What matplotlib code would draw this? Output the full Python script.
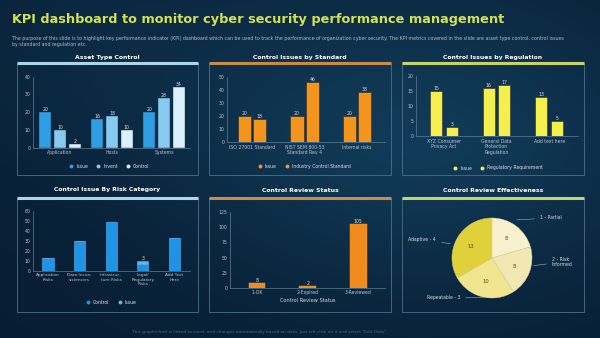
import numpy as np
import matplotlib
matplotlib.use("Agg")
import matplotlib.pyplot as plt
from matplotlib.patches import Rectangle
from matplotlib.lines import Line2D

W, H = 600, 338

# ---------------- data ----------------
title = "KPI dashboard to monitor cyber security performance management"
subtitle = ("The purpose of this slide is to highlight key performance indicator (KPI) dashboard which can be used to track the performance of organization cyber security. The KPI metrics covered in the slide are asset type control, control issues\n"
            "by standard and regulation etc.")
footer = "This graph/chart is linked to excel, and changes automatically based on data. Just left click on it and select \"Edit Data\"."

asset_cats = ["Application", "Hosts", "Systems"]
asset_series = ["Issue", "Invent", "Control"]
asset_issue = [20, 16, 20]
asset_invent = [10, 18, 28]
asset_control = [2, 10, 34]

std_cats = ["ISO 27001 Standard", "NIST SEM 800-53\nStandard Rev 4", "Internal risks"]
std_series = ["Issue", "Industry Control Standard"]
std_issue = [20, 20, 20]
std_industry = [18, 46, 38]

reg_cats = ["XYZ Consumer\nPrivacy Act", "General Data\nProtection\nRegulation", "Add text here"]
reg_series = ["Issue", "Regulatory Requirement"]
reg_issue = [15, 16, 13]
reg_requirement = [3, 17, 5]

risk_cats = ["Application\nRisks", "Data Incon-\nsistencies", "Infrastruc-\nture Risks", "Legal/\nRegulatory\nRisks", "Add Text\nHere"]
risk_series = ["Control", "Issue"]
risk_control = [13, 30, 49, 7, 33]
risk_issue = [0, 0, 0, 3, 0]

status_cats = ["1-OK", "2-Expired", "3-Reviewed"]
status_vals = [8, 2, 105]
status_xlabel = "Control Review Status"

eff_labels = ["1 - Partial", "2 - Risk\nInformed", "Repeatable - 3", "Adaptive - 4"]
eff_vals = [8, 8, 10, 13]

panel_titles = ["Asset Type Control", "Control Issues by Standard", "Control Issues by Regulation",
                "Control Issue By Risk Category", "Control Review Status", "Control Review Effectiveness"]

# ---------------- figure ----------------
fig = plt.figure(figsize=(6, 3.38), dpi=100)

# background gradient
bg = fig.add_axes([0, 0, 1, 1])
yy, xx = np.mgrid[0:H, 0:W]
dark = np.array([0.030, 0.115, 0.200])
light = np.array([0.070, 0.250, 0.370])
w = 0.85 * np.exp(-((xx - 420) / 260.0) ** 2 - ((yy - 150) / 170.0) ** 2)
w += 0.25 * np.exp(-((xx - 80) / 200.0) ** 2 - ((yy - 40) / 120.0) ** 2)
w *= np.clip(1.25 - yy / 338.0 * 0.6, 0, 1)
w = np.clip(w, 0, 1)[..., None]
img = dark * (1 - w) + light * w
bg.imshow(img, extent=[0, W, H, 0], aspect="auto")
bg.set_xlim(0, W)
bg.set_ylim(H, 0)
bg.axis("off")

def fx(x):
    return x / W

def fy(y):
    return 1 - y / H

TXT = "#d6dee6"
TICK = "#b9c5d0"

fig.text(fx(12), fy(20), title, color="#d3e253", fontsize=9.3, fontweight="bold",
         ha="left", va="center", family="DejaVu Sans")
fig.text(fx(12), fy(41.5), subtitle, color="#aebccb", fontsize=3.4, ha="left", va="center",
         linespacing=1.2)
fig.text(fx(260), fy(332), footer, color="#4d6c86", fontsize=3.05, ha="center", va="center")

# panel frames
panels = [(17, 198, 63, 175, "#a9d6ec"), (209, 391, 63, 175, "#c98b45"), (402, 584, 63, 175, "#c8d26a"),
          (17, 198, 198, 312, "#a9d6ec"), (209, 391, 198, 312, "#c98b45"), (402, 584, 198, 312, "#c8d26a")]
title_y = [57, 57, 57, 190, 190, 190]
for (x0, x1, y0, y1, col), t, ty in zip(panels, panel_titles, title_y):
    bg.add_patch(Rectangle((x0, y0), x1 - x0, y1 - y0, fill=False, ec="#4f6f8a", lw=0.6))
    bg.plot([x0, x1], [y0, y0], color=col, lw=2.2, solid_capstyle="butt")
    bg.text((x0 + x1) / 2, ty, t, color="white", fontsize=4.4, fontweight="bold",
            ha="center", va="center")

def make_ax(left, right, bottom, top):
    ax = fig.add_axes([fx(left), fy(bottom), (right - left) / W, (bottom - top) / H])
    ax.patch.set_alpha(0)
    for s in ["top", "right"]:
        ax.spines[s].set_visible(False)
    for s in ["left", "bottom"]:
        ax.spines[s].set_color("#5d7d98")
        ax.spines[s].set_linewidth(0.5)
    ax.tick_params(axis="both", length=0, labelsize=3.3, colors=TICK, pad=2)
    return ax

def vlabels(ax, xs, vals, bottoms=None):
    for i, (x, v) in enumerate(zip(xs, vals)):
        b = 0 if bottoms is None else bottoms[i]
        ax.text(x, b + v, f"{v}", color=TXT, fontsize=3.3, ha="center", va="bottom")

def legend(ax, labels, colors, cx, cy):
    handles = [Line2D([0], [0], marker="o", ls="", color=c, markersize=1.8) for c in colors]
    fig.legend(handles, labels, loc="center", bbox_to_anchor=(fx(cx), fy(cy)), ncol=len(labels),
               frameon=False, fontsize=3.3, labelcolor=TXT, handletextpad=0.1, columnspacing=1.2,
               borderaxespad=0, borderpad=0)

# ---- Panel 1: Asset Type Control ----
ax = make_ax(33, 190, 147.7, 76.7)
x = np.arange(len(asset_cats))
cols1 = ["#2f9de2", "#86caf0", "#dbf1fc"]
off = 0.285
bw = 0.235
for k, (vals, c) in enumerate(zip([asset_issue, asset_invent, asset_control], cols1)):
    xs = x + (k - 1) * off
    ax.bar(xs, vals, bw, color=c, edgecolor="#10324f", linewidth=0.3)
    vlabels(ax, xs, vals)
ax.set_xlim(-0.52, 2.5)
ax.set_ylim(0, 40)
ax.set_yticks([0, 10, 20, 30, 40])
ax.set_xticks(x)
ax.set_xticklabels(asset_cats)
legend(ax, asset_series, cols1, 108, 166)

# ---- Panel 2: Control Issues by Standard ----
ax = make_ax(227, 385, 142.3, 76.7)
x = np.arange(len(std_cats))
orange = "#f3951d"
off = 0.145
bw = 0.25
for k, vals in enumerate([std_issue, std_industry]):
    xs = x + (2 * k - 1) * off
    ax.bar(xs, vals, bw, color=orange, edgecolor="#2a2a2a", linewidth=0.4)
    vlabels(ax, xs, vals)
ax.set_xlim(-0.476, 2.53)
ax.set_ylim(0, 50)
ax.set_yticks([0, 10, 20, 30, 40, 50])
ax.set_xticks(x)
ax.set_xticklabels(std_cats, linespacing=1.1)
legend(ax, std_series, [orange, orange], 303, 166)

# ---- Panel 3: Control Issues by Regulation ----
ax = make_ax(416, 578, 136, 75.7)
x = np.arange(len(reg_cats))
yellow = "#f4ef4c"
off = 0.15
bw = 0.23
for k, vals in enumerate([reg_issue, reg_requirement]):
    xs = x + (2 * k - 1) * off
    ax.bar(xs, vals, bw, color=yellow, edgecolor="#2a2a2a", linewidth=0.4)
    vlabels(ax, xs, vals)
ax.set_xlim(-0.533, 2.55)
ax.set_ylim(0, 20)
ax.set_yticks([0, 5, 10, 15, 20])
ax.set_xticks(x)
ax.set_xticklabels(reg_cats, linespacing=1.1)
legend(ax, reg_series, [yellow, yellow], 497, 168)

# ---- Panel 4: Control Issue By Risk Category ----
ax = make_ax(33, 190, 270.7, 211)
x = np.arange(len(risk_cats))
blue = "#1f93e6"
blue2 = "#5fb6ee"
ax.bar(x, risk_control, 0.35, color=blue, edgecolor="#58b4f0", linewidth=0.4)
ax.bar(x, risk_issue, 0.35, bottom=risk_control, color=blue2, edgecolor="#58b4f0", linewidth=0.4)
tot = [a + b for a, b in zip(risk_control, risk_issue)]
for xi, v, t in zip(x, risk_issue, tot):
    if v:
        ax.text(xi, t, f"{v}", color=TXT, fontsize=3.3, ha="center", va="bottom")
ax.set_xlim(-0.476, 4.5)
ax.set_ylim(0, 60)
ax.set_yticks([0, 10, 20, 30, 40, 50, 60])
ax.set_xticks(x)
ax.set_xticklabels(risk_cats, linespacing=1.1, fontsize=3.1)
legend(ax, risk_series, [blue, blue2], 110, 302)

# ---- Panel 5: Control Review Status ----
ax = make_ax(230, 385, 287.7, 212.3)
x = np.arange(len(status_cats))
ax.bar(x, status_vals, 0.33, color="#f08a1c", edgecolor="#f5a040", linewidth=0.3)
vlabels(ax, x, status_vals)
ax.set_xlim(-0.535, 2.53)
ax.set_ylim(0, 125)
ax.set_yticks([0, 25, 50, 75, 100, 125])
ax.set_xticks(x)
ax.set_xticklabels(status_cats)
ax.set_xlabel(status_xlabel, color=TXT, fontsize=3.6, labelpad=2)

# ---- Panel 6: Control Review Effectiveness ----
R = 40
axp = fig.add_axes([fx(492 - R), fy(258 + R), 2 * R / W, 2 * R / H])
pie_cols = ["#f7f1cf", "#f1e8b4", "#f2e58f", "#e0d13a"]
wedges, _ = axp.pie(eff_vals, colors=pie_cols, startangle=90, counterclock=False, radius=1,
                    wedgeprops=dict(edgecolor="#e8dc98", linewidth=0.3))
axp.set_xlim(-1, 1)
axp.set_ylim(-1, 1)
axp.set_aspect("equal")
axp.axis("off")
for v, wdg in zip(eff_vals, wedges):
    mid = np.deg2rad((wdg.theta1 + wdg.theta2) / 2)
    axp.text(0.6 * np.cos(mid), 0.6 * np.sin(mid), f"{v}", color="#5a4a20", fontsize=3.8,
             ha="center", va="center")
ext = [((0.55, 0.95), (1.2, 1.0), "left"),
       ((0.97, -0.2), (1.5, -0.1), "left"),
       ((-0.15, -0.99), (-0.8, -1.0), "right"),
       ((-0.97, 0.35), (-1.4, 0.45), "right")]
for lab, (p, t, ha) in zip(eff_labels, ext):
    axp.annotate(lab, xy=p, xytext=t, color=TXT, fontsize=3.3, ha=ha, va="center",
                 arrowprops=dict(arrowstyle="-", color="#9fb0c0", lw=0.4),
                 annotation_clip=False, linespacing=1.1)

fig.savefig("out.png", dpi=100)
